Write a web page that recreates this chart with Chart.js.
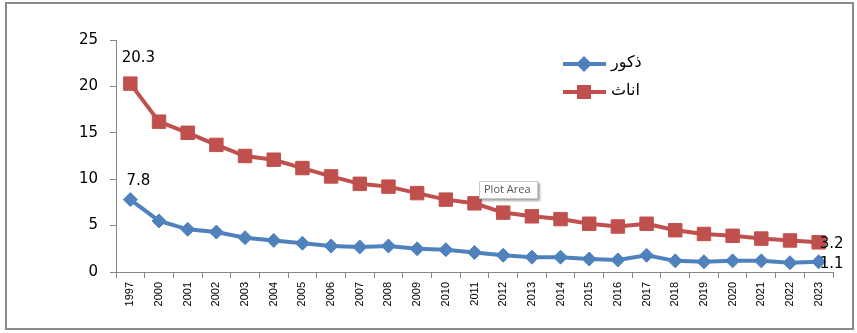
<!DOCTYPE html>
<html>
<head>
<meta charset="utf-8">
<script src="https://cdn.jsdelivr.net/npm/chart.js@4/dist/chart.umd.min.js"></script>
<style>
html,body{margin:0;padding:0;background:#fff;}
#wrap{width:857px;height:333px;position:relative;}
</style>
</head>
<body>
<div id="wrap"><canvas id="c" width="857" height="333"></canvas></div>
<script>
const years = ['1997','2000','2001','2002','2003','2004','2005','2006','2007','2008','2009','2010','2011','2012','2013','2014','2015','2016','2017','2018','2019','2020','2021','2022','2023'];
const males = [7.8,5.5,4.6,4.3,3.7,3.4,3.1,2.8,2.7,2.8,2.5,2.4,2.1,1.8,1.6,1.6,1.4,1.3,1.8,1.2,1.1,1.2,1.2,1.0,1.1];
const females = [20.3,16.2,15.0,13.7,12.5,12.1,11.2,10.3,9.5,9.2,8.5,7.8,7.4,6.4,6.0,5.7,5.2,4.9,5.2,4.5,4.1,3.9,3.6,3.4,3.2];
const seriesNames = ['ذكور','اناث'];
const yTicks = [0,5,10,15,20,25];

const BLUE = '#4F81BD', RED = '#C0504D', AXIS = '#868686';

const framePlugin = {
  id: 'frame',
  beforeDraw(chart) {
    const ctx = chart.ctx;
    ctx.save();
    ctx.fillStyle = '#fff';
    ctx.fillRect(0,0,chart.width,chart.height);
    ctx.strokeStyle = '#8a8a8a';
    ctx.lineWidth = 2;
    ctx.strokeRect(6,3,847,326);
    ctx.restore();
  }
};

const labelPlugin = {
  id: 'valLabels',
  afterDatasetsDraw(chart) {
    const ctx = chart.ctx;
    ctx.save();
    ctx.font = '15px "DejaVu Sans"';
    ctx.fillStyle = '#000';
    ctx.textBaseline = 'middle';
    chart.data.datasets.forEach((ds, di) => {
      const meta = chart.getDatasetMeta(di);
      const first = meta.data[0], last = meta.data[meta.data.length-1];
      ctx.textAlign = 'center';
      const dy = di === 1 ? -26 : -19;
      ctx.fillText(ds.data[0].toFixed(1), first.x + 8, first.y + dy);
      ctx.textAlign = 'left';
      ctx.fillText(ds.data[ds.data.length-1].toFixed(1), last.x + 1, last.y + (di === 1 ? 2 : 2));
    });
    ctx.restore();
  }
};

const legendPlugin = {
  id: 'customLegend',
  afterDraw(chart) {
    const ctx = chart.ctx;
    ctx.save();
    const rows = [{y:64, ds:0},{y:92, ds:1}];
    rows.forEach(r => {
      const ds = chart.data.datasets[r.ds];
      ctx.strokeStyle = ds.borderColor;
      ctx.lineWidth = 4;
      ctx.beginPath();
      ctx.moveTo(563, r.y); ctx.lineTo(606, r.y); ctx.stroke();
      ctx.fillStyle = ds.pointBackgroundColor;
      if (r.ds === 0) {
        ctx.beginPath();
        ctx.moveTo(584-8, r.y); ctx.lineTo(584, r.y-8); ctx.lineTo(584+8, r.y); ctx.lineTo(584, r.y+8); ctx.closePath(); ctx.fill();
      } else {
        ctx.fillRect(584-7, r.y-7, 14, 14);
      }
      ctx.fillStyle = '#000';
      ctx.font = '16px "DejaVu Sans"';
      ctx.textAlign = 'left';
      ctx.textBaseline = 'middle';
      ctx.fillText(ds.label, 611, r.y - 1);
    });
    // Plot Area tooltip
    ctx.shadowColor = 'rgba(0,0,0,0.35)';
    ctx.shadowOffsetX = 2; ctx.shadowOffsetY = 2; ctx.shadowBlur = 2;
    ctx.fillStyle = '#fff';
    ctx.fillRect(479, 181, 59, 18);
    ctx.shadowColor = 'transparent';
    ctx.strokeStyle = '#c8c8c8'; ctx.lineWidth = 1;
    ctx.strokeRect(479.5, 181.5, 58, 17);
    ctx.fillStyle = '#575757';
    ctx.font = '11px "Open Sans"';
    ctx.textAlign = 'left'; ctx.textBaseline = 'middle';
    ctx.fillText('Plot Area', 484, 190);
    ctx.restore();
  }
};

new Chart(document.getElementById('c'), {
  type: 'line',
  data: {
    labels: years,
    datasets: [
      { label: seriesNames[0], data: males, borderColor: BLUE, backgroundColor: BLUE,
        pointBackgroundColor: BLUE, pointBorderColor: BLUE, borderWidth: 4,
        pointStyle: 'rectRot', pointRadius: 7, pointBorderWidth: 1, tension: 0 },
      { label: seriesNames[1], data: females, borderColor: RED, backgroundColor: RED,
        pointBackgroundColor: RED, pointBorderColor: RED, borderWidth: 4,
        pointStyle: 'rect', pointRadius: 9.5, pointBorderWidth: 1, tension: 0 }
    ]
  },
  options: {
    responsive: false,
    animation: false,
    devicePixelRatio: 1,
    layout: { padding: { top: 40, right: 24, left: 0, bottom: 0 } },
    plugins: { legend: { display: false }, tooltip: { enabled: false } },
    scales: {
      x: {
        offset: true,
        grid: { offset: true, drawOnChartArea: false, drawTicks: true, tickLength: 6, color: AXIS },
        border: { color: AXIS, width: 1 },
        ticks: { autoSkip: false, maxRotation: 90, minRotation: 90, padding: 4, color: '#000',
                 font: { family: '"Liberation Sans"', size: 11 } },
        afterFit(s) { s.height = 61; }
      },
      y: {
        min: 0, max: 25,
        afterBuildTicks(s) { s.ticks = yTicks.map(v => ({ value: v })); },
        grid: { drawOnChartArea: false, drawTicks: true, tickLength: 6, color: AXIS },
        border: { color: AXIS, width: 1 },
        ticks: { padding: 12, color: '#000', font: { family: '"DejaVu Sans"', size: 15 } },
        afterFit(s) { s.width = 116; }
      }
    }
  },
  plugins: [framePlugin, labelPlugin, legendPlugin]
});
</script>
</body>
</html>
